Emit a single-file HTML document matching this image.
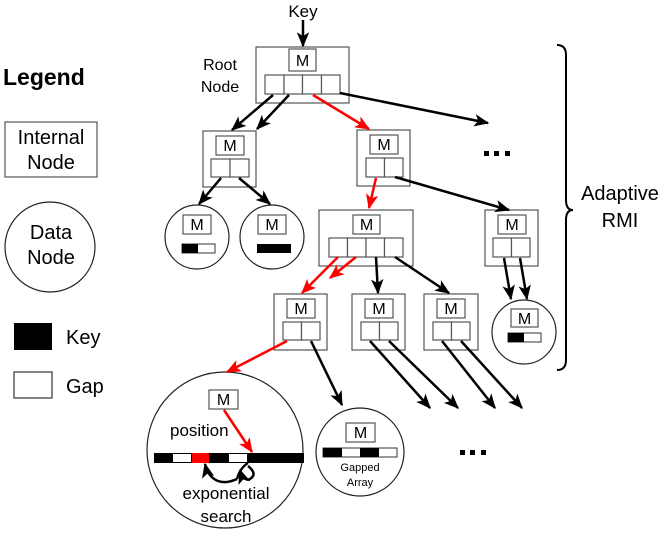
<!DOCTYPE html>
<html><head><style>body{margin:0;background:#fff}svg{display:block}text{font-family:"Liberation Sans",Arial,sans-serif}</style></head><body>
<svg width="665" height="533" viewBox="0 0 665 533" xmlns="http://www.w3.org/2000/svg">
<defs>
<marker id="a" viewBox="0 0 12 10" refX="11" refY="5" markerWidth="6" markerHeight="6" orient="auto" markerUnits="strokeWidth"><path d="M0,0 L12,5 L0,10 L3,5 z" fill="#000"/></marker>
<marker id="r" viewBox="0 0 12 10" refX="11" refY="5" markerWidth="6" markerHeight="6" orient="auto" markerUnits="strokeWidth"><path d="M0,0 L12,5 L0,10 L3,5 z" fill="#f00"/></marker>
</defs>
<g fill="none" stroke="#555" stroke-width="1.2">
<rect x="5" y="122" width="92" height="55"/>
<circle cx="50" cy="247" r="45" stroke="#222"/>
<rect x="14" y="372" width="38" height="26" stroke="#333"/>
</g>
<rect x="14" y="323" width="38" height="27" fill="#000"/>
<text x="3" y="85" font-size="23" font-weight="bold">Legend</text>
<text x="51" y="144" font-size="20" text-anchor="middle">Internal</text>
<text x="51" y="169" font-size="20" text-anchor="middle">Node</text>
<text x="51" y="239" font-size="20" text-anchor="middle">Data</text>
<text x="51" y="264" font-size="20" text-anchor="middle">Node</text>
<text x="66" y="344" font-size="20">Key</text>
<text x="66" y="393" font-size="20">Gap</text>

<path d="M557,45 Q566,45 566,55 L566,200 Q566,210 573,210 Q566,210 566,220 L566,360 Q566,370 557,370" fill="none" stroke="#000" stroke-width="2"/>
<text x="620" y="200" font-size="20" text-anchor="middle">Adaptive</text>
<text x="620" y="227" font-size="20" text-anchor="middle">RMI</text>

<text x="303" y="17" font-size="17" text-anchor="middle">Key</text>
<text x="220" y="70" font-size="16" text-anchor="middle">Root</text>
<text x="220" y="92" font-size="16" text-anchor="middle">Node</text>

<g fill="#fff" stroke="#555" stroke-width="1.2">
<rect x="256" y="47" width="93" height="56"/>
<rect x="289" y="49" width="27" height="22"/>
<rect x="265" y="75" width="19" height="19"/><rect x="284" y="75" width="18.5" height="19"/><rect x="302.5" y="75" width="19" height="19"/><rect x="321.5" y="75" width="18.5" height="19"/>
<rect x="203" y="131" width="53" height="56"/>
<rect x="216" y="136" width="28" height="19"/>
<rect x="211" y="159" width="19" height="18"/><rect x="230" y="159" width="19" height="18"/>
<rect x="357" y="130" width="53" height="56"/>
<rect x="370" y="135" width="28" height="19"/>
<rect x="366" y="158" width="18.5" height="19"/><rect x="384.5" y="158" width="18.5" height="19"/>
<rect x="319" y="210" width="94" height="56"/>
<rect x="353" y="215" width="27" height="19"/>
<rect x="329" y="238" width="18.5" height="19"/><rect x="347.5" y="238" width="18.5" height="19"/><rect x="366" y="238" width="18.5" height="19"/><rect x="384.5" y="238" width="18.5" height="19"/>
<rect x="485" y="210" width="53" height="56"/>
<rect x="498" y="215" width="28" height="19"/>
<rect x="493" y="238" width="18.5" height="19"/><rect x="511.5" y="238" width="18.5" height="19"/>
<rect x="274" y="294" width="53" height="56"/>
<rect x="287" y="299" width="28" height="19"/>
<rect x="283" y="322" width="18.5" height="18"/><rect x="301.5" y="322" width="18.5" height="18"/>
<rect x="352" y="294" width="53" height="56"/>
<rect x="365" y="299" width="28" height="19"/>
<rect x="361" y="322" width="18.5" height="18"/><rect x="379.5" y="322" width="18.5" height="18"/>
<rect x="424" y="294" width="54" height="56"/>
<rect x="437" y="299" width="28" height="19"/>
<rect x="433" y="322" width="18.5" height="18"/><rect x="451.5" y="322" width="18.5" height="18"/>
</g>
<g fill="#fff" stroke="#222" stroke-width="1.2">
<circle cx="197" cy="237" r="32"/>
<circle cx="272" cy="237" r="32"/>
<circle cx="524" cy="332" r="32"/>
<circle cx="225" cy="450" r="78"/>
<circle cx="360" cy="452" r="44"/>
</g>
<g fill="#fff" stroke="#555" stroke-width="1.2">
<rect x="183" y="215" width="28" height="19"/>
<rect x="258" y="215" width="28" height="19"/>
<rect x="511" y="309" width="27" height="18"/>
<rect x="209" y="390" width="29" height="19"/>
<rect x="346" y="423" width="29" height="19"/>
</g>
<rect x="182" y="244" width="33" height="9" fill="#fff" stroke="#333"/><rect x="182" y="244" width="16" height="9" fill="#000"/>
<rect x="257" y="244" width="34" height="9" fill="#000"/>
<rect x="508" y="333" width="33" height="9" fill="#fff" stroke="#333"/><rect x="508" y="333" width="16" height="9" fill="#000"/>
<rect x="323" y="448" width="74" height="9" fill="#fff" stroke="#333"/><rect x="323" y="448" width="19" height="9" fill="#000"/><rect x="360" y="448" width="19" height="9" fill="#000"/>
<text x="360" y="471" font-size="11" text-anchor="middle">Gapped</text>
<text x="360" y="486" font-size="11" text-anchor="middle">Array</text>
<rect x="154" y="453" width="150" height="10" fill="#000"/>
<rect x="173" y="454" width="18" height="8" fill="#fff"/>
<rect x="192" y="453" width="17" height="10" fill="#f00"/>
<rect x="229" y="454" width="18" height="8" fill="#fff"/>
<text x="170" y="436" font-size="17">position</text>
<text x="226" y="499" font-size="17" text-anchor="middle">exponential</text>
<text x="226" y="522" font-size="17" text-anchor="middle">search</text>

<g font-size="16" text-anchor="middle">
<text x="302.5" y="66">M</text><text x="230" y="151">M</text><text x="384" y="150">M</text>
<text x="366.5" y="230">M</text><text x="512" y="230">M</text>
<text x="301" y="314">M</text><text x="379" y="314">M</text><text x="451" y="314">M</text>
<text x="197" y="230">M</text><text x="272" y="230">M</text><text x="524.5" y="324">M</text>
<text x="223.5" y="405">M</text><text x="360.5" y="438">M</text>
</g>
<g fill="#000">
<rect x="484" y="151" width="5" height="5"/><rect x="494" y="151" width="5" height="5"/><rect x="505" y="151" width="5" height="5"/>
<rect x="460" y="450" width="5" height="5"/><rect x="470" y="450" width="5" height="5"/><rect x="481" y="450" width="5" height="5"/>
</g>

<g stroke="#000" stroke-width="2.5" fill="none" marker-end="url(#a)">
<line x1="303" y1="20" x2="303" y2="46"/>
<line x1="273" y1="95" x2="232" y2="130"/>
<line x1="289" y1="95" x2="257" y2="129"/>
<line x1="340" y1="93" x2="488" y2="123"/>
<line x1="221" y1="178" x2="199" y2="204"/>
<line x1="239" y1="178" x2="270" y2="204"/>
<line x1="395" y1="177" x2="509" y2="210"/>
<line x1="376" y1="257" x2="378" y2="293"/>
<line x1="395" y1="257" x2="449" y2="293"/>
<line x1="504" y1="258" x2="511" y2="299"/>
<line x1="520" y1="258" x2="527" y2="299"/>
<line x1="311" y1="341" x2="342" y2="405"/>
<line x1="370" y1="341" x2="430" y2="408"/>
<line x1="389" y1="341" x2="458" y2="408"/>
<line x1="442" y1="341" x2="495" y2="408"/>
<line x1="461" y1="341" x2="522" y2="408"/>
<path d="M237,479 Q226,484 218,481 Q208,477 205,464"/>
<path d="M237,479 Q240,468 248,463 M248,466 Q258,474 250,479 Q244,482 240,470" />
</g>
<g stroke="#f00" stroke-width="2.5" fill="none" marker-end="url(#r)">
<line x1="313" y1="95" x2="369" y2="129"/>
<line x1="376" y1="178" x2="369" y2="208"/>
<line x1="338" y1="257" x2="302" y2="293"/>
<line x1="356" y1="257" x2="330" y2="278"/>
<line x1="287" y1="341" x2="227" y2="372"/>
<line x1="224" y1="410" x2="252" y2="452"/>
</g>
</svg>
</body></html>
